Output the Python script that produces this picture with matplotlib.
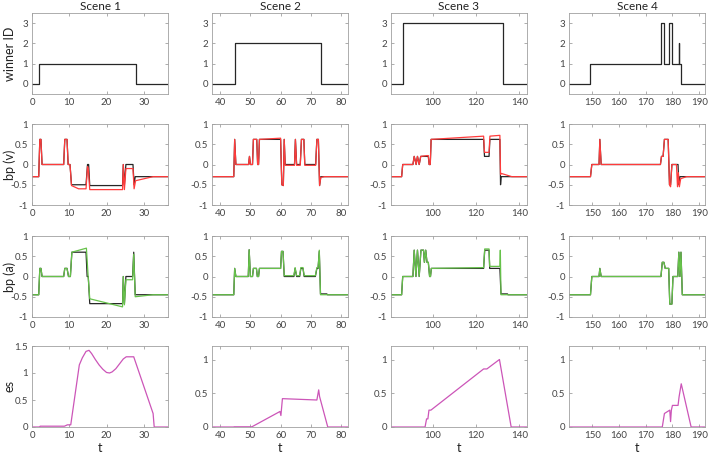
import matplotlib
matplotlib.use("Agg")
import matplotlib.pyplot as plt

plt.rcParams['font.family'] = ['Lato', 'DejaVu Sans']

# ---------------- data ----------------
scenes = ["Scene 1", "Scene 2", "Scene 3", "Scene 4"]
xlims = [(0, 36.5), (37.3, 82.3), (80.8, 143.5), (141.25, 192.2)]
xticks = [[0, 10, 20, 30], [40, 50, 60, 70, 80], [100, 120, 140], [150, 160, 170, 180, 190]]
row_labels = ["winner ID", "bp (v)", "bp (a)", "es"]

# winner ID (step, post)
win1_t = [0, 2.0, 28.0, 36.5]
win1_y = [0, 1, 0, 0]
win2_t = [37.3, 45.0, 73.3, 82.3]
win2_y = [0, 2, 0, 0]
win3_t = [80.8, 86.2, 132.6, 143.5]
win3_y = [0, 3, 0, 0]
win4_t = [141.25, 149.3, 175.8, 176.8, 178.8, 179.8, 182.3, 182.6, 183.3, 192.2]
win4_y = [0, 1, 3, 1, 3, 1, 2, 1, 0, 0]

# bp (v): black = reference, red = model
bpv1_kt = [0, 1.8, 2.1, 2.4, 2.7, 8.5, 8.8, 9.4, 9.7, 10.2, 10.6, 14.5, 14.9, 15.2, 15.5, 24.3, 24.5, 24.8, 25.2, 27.1, 27.4, 27.7, 36.5]
bpv1_ky = [-0.3, -0.3, 0.62, 0.62, 0, 0, 0.62, 0.62, 0, 0, -0.5, -0.5, 0, 0, -0.52, -0.52, 0, -0.5, 0, 0, -0.5, -0.3, -0.3]
bpv1_rt = [0, 1.8, 2.1, 2.4, 2.7, 8.5, 8.8, 9.4, 9.7, 10.2, 10.6, 12.5, 14.5, 14.9, 15.1, 15.5, 24.3, 24.5, 24.8, 25.2, 27.1, 27.4, 27.8, 32.5, 36.5]
bpv1_ry = [-0.3, -0.3, 0.62, 0.62, 0, 0, 0.62, 0.62, 0, 0, -0.52, -0.6, -0.6, -0.05, -0.1, -0.62, -0.62, 0, -0.62, -0.1, -0.1, -0.6, -0.4, -0.3, -0.3]

bpv2_kt = [37.3, 44.5, 44.8, 45.2, 49.4, 49.7, 50.0, 50.7, 51.0, 52.1, 52.4, 52.7, 53.0, 60.0, 60.4, 60.9, 61.2, 61.5, 64.6, 64.9, 65.3, 66.5, 66.9, 67.7, 68.0, 71.6, 72.0, 72.5, 72.9, 73.3, 82.3]
bpv2_ky = [-0.3, -0.3, 0.62, 0, 0, 0.2, 0, 0, 0.62, 0.62, 0, 0, 0.62, 0.62, -0.5, -0.52, 0.62, 0, 0, 0.62, 0, 0, 0.62, 0.62, 0, 0, 0.62, 0.62, -0.52, -0.3, -0.3]
bpv2_rt = [37.3, 44.5, 44.8, 45.2, 49.4, 49.7, 50.0, 50.7, 51.0, 52.1, 52.4, 52.7, 53.0, 60.0, 60.4, 60.9, 61.2, 61.5, 64.6, 64.9, 65.3, 66.5, 66.9, 67.7, 68.0, 71.6, 72.0, 72.5, 72.9, 73.3, 74.5, 82.3]
bpv2_ry = [-0.3, -0.3, 0.62, 0, 0, 0.2, 0, 0, 0.62, 0.62, 0, 0, 0.62, 0.65, -0.5, -0.52, 0.62, -0.02, -0.02, 0.62, -0.02, -0.02, 0.62, 0.62, -0.02, -0.02, 0.62, 0.62, -0.52, -0.32, -0.3, -0.3]

bpv3_kt = [80.8, 85.7, 86.2, 90.9, 91.5, 92.4, 93.0, 93.8, 94.5, 97.4, 98.0, 98.4, 98.9, 99.3, 123.5, 123.9, 126.0, 126.4, 131.0, 131.3, 131.6, 143.5]
bpv3_ky = [-0.3, -0.3, 0, 0, 0.2, 0, 0.2, 0, 0.2, 0.2, 0.2, 0, 0, 0.62, 0.62, 0.2, 0.2, 0.62, 0.62, -0.5, -0.3, -0.3]
bpv3_rt = [80.8, 85.7, 86.2, 90.9, 91.5, 92.4, 93.0, 93.8, 94.5, 97.4, 98.0, 98.4, 98.9, 99.3, 123.5, 123.9, 126.0, 126.4, 131.0, 131.3, 131.6, 136.5, 143.5]
bpv3_ry = [-0.3, -0.3, 0, 0, 0.2, 0, 0.2, 0, 0.2, 0.22, 0.22, 0, 0, 0.62, 0.7, 0.3, 0.3, 0.7, 0.72, -0.25, -0.22, -0.3, -0.3]

bpv4_kt = [141.25, 149.3, 149.8, 152.5, 152.8, 153.3, 175.5, 175.9, 176.5, 177.0, 178.4, 178.9, 179.3, 179.8, 182.1, 182.4, 182.8, 192.2]
bpv4_ky = [-0.3, -0.3, 0, 0, 0.62, 0, 0, 0.2, 0.2, 0.62, 0.62, -0.5, -0.5, 0, 0, -0.5, -0.3, -0.3]
bpv4_rt = [141.25, 149.3, 149.8, 152.5, 152.8, 153.3, 175.5, 175.9, 176.5, 177.0, 178.4, 178.9, 179.3, 179.8, 181.5, 181.9, 182.2, 182.6, 183.1, 185.3, 192.2]
bpv4_ry = [-0.3, -0.3, 0, 0, 0.62, 0, 0, 0.2, 0.2, 0.62, 0.62, -0.5, -0.55, 0, 0, -0.55, -0.2, -0.55, -0.35, -0.3, -0.3]

# bp (a): black = reference, green = model
bpa1_kt = [0, 1.8, 2.1, 2.4, 2.7, 8.5, 8.8, 9.4, 9.8, 10.3, 10.7, 14.5, 14.8, 15.1, 15.5, 24.3, 24.5, 24.8, 25.2, 27.0, 27.3, 27.7, 36.5]
bpa1_ky = [-0.45, -0.45, 0.2, 0.2, 0, 0, 0.2, 0.2, 0, 0, 0.6, 0.6, 0, 0, -0.67, -0.67, 0, -0.67, 0, 0, 0.6, -0.45, -0.45]
bpa1_gt = [0, 1.8, 2.1, 2.4, 2.7, 8.5, 8.8, 9.4, 9.8, 10.3, 10.7, 14.6, 15.0, 15.5, 24.3, 24.5, 24.8, 25.2, 27.0, 27.3, 27.7, 32.5, 36.5]
bpa1_gy = [-0.45, -0.45, 0.2, 0.2, 0, 0, 0.2, 0.2, 0, 0, 0.6, 0.7, 0.1, -0.55, -0.75, 0, -0.7, -0.08, -0.08, 0.55, -0.5, -0.45, -0.45]

bpa2_kt = [37.3, 44.5, 44.8, 45.2, 49.3, 49.6, 50.0, 50.7, 51.0, 52.0, 52.3, 52.7, 53.0, 60.0, 60.3, 60.8, 61.2, 64.4, 64.8, 65.3, 66.3, 66.7, 67.4, 67.8, 71.5, 72.0, 72.4, 72.8, 73.2, 75.3, 75.5, 82.3]
bpa2_ky = [-0.45, -0.45, 0.2, 0, 0, 0.66, 0, 0, 0.2, 0.2, 0, 0, 0.2, 0.2, 0.62, 0.62, 0, 0, 0.2, 0, 0, 0.2, 0.2, 0, 0, 0.2, 0.2, 0.62, -0.43, -0.43, -0.45, -0.45]
bpa2_gt = [37.3, 44.5, 44.8, 45.2, 49.3, 49.6, 50.0, 50.7, 51.0, 52.0, 52.3, 52.7, 53.0, 60.0, 60.3, 60.8, 61.2, 64.4, 64.8, 65.3, 66.3, 66.7, 67.4, 67.8, 71.5, 72.0, 72.4, 72.8, 73.2, 82.3]
bpa2_gy = [-0.45, -0.45, 0.2, 0, 0, 0.66, 0, 0, 0.2, 0.2, 0, 0, 0.2, 0.2, 0.62, 0.62, 0.02, 0.02, 0.22, 0.02, 0.02, 0.22, 0.22, 0.02, 0.02, 0.22, 0.22, 0.65, -0.45, -0.45]

bpa3_kt = [80.8, 85.7, 86.2, 90.9, 91.5, 92.3, 93.0, 93.8, 94.6, 95.8, 96.2, 96.8, 97.4, 98.0, 98.6, 99.0, 99.4, 123.5, 124.0, 126.0, 126.3, 131.0, 131.5, 134.5, 134.7, 143.5]
bpa3_ky = [-0.45, -0.45, 0, 0, 0.65, 0, 0.65, 0, 0.65, 0.65, 0.35, 0.65, 0.35, 0.35, 0, 0, 0.2, 0.2, 0.65, 0.65, 0.2, 0.2, -0.43, -0.43, -0.45, -0.45]
bpa3_gt = [80.8, 85.7, 86.2, 90.9, 91.5, 92.3, 93.0, 93.8, 94.6, 95.8, 96.2, 96.8, 97.4, 98.0, 98.6, 99.0, 99.4, 123.5, 124.0, 126.0, 126.3, 131.0, 131.2, 131.5, 143.5]
bpa3_gy = [-0.45, -0.45, 0, 0, 0.65, 0, 0.65, 0, 0.65, 0.65, 0.35, 0.65, 0.35, 0.35, 0, 0, 0.2, 0.22, 0.68, 0.68, 0.25, 0.25, 0.65, -0.45, -0.45]

bpa4_kt = [141.25, 149.3, 149.8, 152.5, 152.8, 153.3, 175.7, 176.2, 176.8, 177.3, 178.6, 179.0, 179.8, 180.2, 182.0, 182.4, 182.8, 183.2, 183.7, 192.2]
bpa4_ky = [-0.45, -0.45, 0, 0, 0.2, 0, 0, 0.35, 0.35, 0.2, 0.2, -0.68, -0.68, 0, 0, 0.6, 0, 0.6, -0.45, -0.45]
bpa4_gt = bpa4_kt
bpa4_gy = bpa4_ky

# es (model)
es1_t = [0, 2.0, 2.2, 8.7, 9.5, 10.4, 12.7, 13.5, 14.5, 15.3, 16.0, 17.0, 18.0, 19.0, 20.0, 20.8, 21.5, 22.5, 23.5, 24.5, 25.3, 27.3, 32.5, 32.8, 36.5]
es1_y = [0, 0, 0.015, 0.015, 0.04, 0.04, 1.15, 1.28, 1.4, 1.42, 1.36, 1.25, 1.15, 1.07, 1.01, 1.0, 1.02, 1.08, 1.17, 1.26, 1.3, 1.3, 0.25, 0, 0]
es2_t = [37.3, 44.5, 44.6, 50.5, 59.8, 60.1, 60.6, 72.0, 72.6, 72.9, 75.6, 82.3]
es2_y = [0, 0, 0.003, 0.003, 0.23, 0.17, 0.42, 0.4, 0.55, 0.45, 0, 0]
es3_t = [80.8, 96.5, 97.2, 97.8, 98.3, 99.2, 123.5, 125.0, 130.8, 136.2, 143.5]
es3_y = [0, 0, 0.12, 0.12, 0.25, 0.25, 0.86, 0.86, 1.0, 0, 0]
es4_t = [141.25, 176.2, 177.0, 178.6, 179.0, 179.3, 179.6, 180.0, 182.1, 182.5, 183.3, 187.0, 192.2]
es4_y = [0, 0, 0.2, 0.24, 0.25, 0.08, 0.25, 0.32, 0.32, 0.45, 0.64, 0, 0]

win = [(win1_t, win1_y), (win2_t, win2_y), (win3_t, win3_y), (win4_t, win4_y)]
bpv = [(bpv1_kt, bpv1_ky, bpv1_rt, bpv1_ry), (bpv2_kt, bpv2_ky, bpv2_rt, bpv2_ry),
       (bpv3_kt, bpv3_ky, bpv3_rt, bpv3_ry), (bpv4_kt, bpv4_ky, bpv4_rt, bpv4_ry)]
bpa = [(bpa1_kt, bpa1_ky, bpa1_gt, bpa1_gy), (bpa2_kt, bpa2_ky, bpa2_gt, bpa2_gy),
       (bpa3_kt, bpa3_ky, bpa3_gt, bpa3_gy), (bpa4_kt, bpa4_ky, bpa4_gt, bpa4_gy)]
es = [(es1_t, es1_y), (es2_t, es2_y), (es3_t, es3_y), (es4_t, es4_y)]

# ---------------- styling ----------------
W, H = 708, 454
fig = plt.figure(figsize=(W / 100, H / 100), dpi=100)
col_left = [32, 212, 391, 569]
row_top = [13, 124, 236, 346]
aw, ah = 136, 81

BLACK = '#262626'
RED = '#ff3b3b'
GREEN = '#66c24a'
MAG = '#cc55b8'
SPINE = '#a0a0a0'
TXT = '#444444'


def style(ax, xl, xt):
    ax.set_xlim(*xl)
    ax.set_xticks(xt)
    for s in ax.spines.values():
        s.set_color(SPINE)
        s.set_linewidth(0.6)
    ax.tick_params(direction='in', length=2.5, width=0.6, color=SPINE,
                   labelsize=7, labelcolor=TXT, top=True, right=True, pad=3)


for c in range(4):
    axes = []
    for r in range(4):
        l = col_left[c] / W
        b = 1 - (row_top[r] + ah) / H
        ax = fig.add_axes([l, b, aw / W, ah / H])
        style(ax, xlims[c], xticks[c])
        axes.append(ax)
        if c == 0:
            ax.set_ylabel(row_labels[r], fontsize=9, color='#222222', va='center')
            ax.yaxis.set_label_coords(-22 / aw, 0.5)

    ax = axes[0]
    t, y = win[c]
    ax.plot(t, y, drawstyle='steps-post', color=BLACK, lw=0.9)
    ax.set_ylim(-0.5, 3.5)
    ax.set_yticks([0, 1, 2, 3])
    ax.set_title(scenes[c], fontsize=8.5, color='#222222', pad=2)

    ax = axes[1]
    kt, ky, rt, ry = bpv[c]
    ax.plot(kt, ky, color=BLACK, lw=0.9)
    ax.plot(rt, ry, color=RED, lw=0.9)
    ax.set_ylim(-1, 1)
    ax.set_yticks([-1, -0.5, 0, 0.5, 1])
    ax.set_yticklabels(['-1', '-0.5', '0', '0.5', '1'])

    ax = axes[2]
    kt, ky, gt, gy = bpa[c]
    ax.plot(kt, ky, color=BLACK, lw=0.9)
    ax.plot(gt, gy, color=GREEN, lw=0.9)
    ax.set_ylim(-1, 1)
    ax.set_yticks([-1, -0.5, 0, 0.5, 1])
    ax.set_yticklabels(['-1', '-0.5', '0', '0.5', '1'])

    ax = axes[3]
    t, y = es[c]
    ax.plot(t, y, color=MAG, lw=0.9)
    if c == 0:
        ax.set_ylim(0, 1.5)
        ax.set_yticks([0, 0.5, 1, 1.5])
        ax.set_yticklabels(['0', '0.5', '1', '1.5'])
    else:
        ax.set_ylim(0, 1.2)
        ax.set_yticks([0, 0.5, 1])
        ax.set_yticklabels(['0', '0.5', '1'])
    ax.set_xlabel('t', fontsize=9, color='#222222', labelpad=1)

fig.savefig('out.png', dpi=100)
